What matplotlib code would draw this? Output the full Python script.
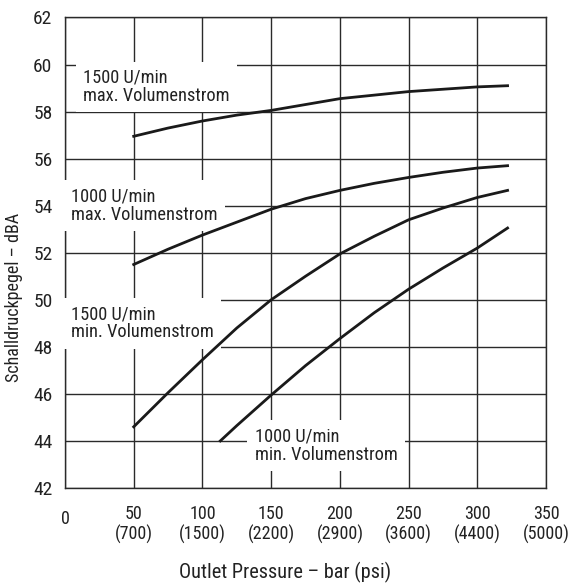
import matplotlib
matplotlib.use("Agg")
import matplotlib.pyplot as plt
import matplotlib.transforms as mtransforms

# condensed grotesque like the original; fall back if one is missing
plt.rcParams['font.family'] = ['Roboto Condensed', 'Archivo Narrow', 'Barlow Semi Condensed', 'DejaVu Sans']

# ---------------- data ----------------
x_bar = [50, 75, 100, 125, 150, 175, 200, 225, 250, 275, 300, 322]
x_bar_1000min = [113, 125, 150, 175, 200, 225, 250, 275, 300, 322]

n1500_max = [56.95, 57.3, 57.6, 57.85, 58.05, 58.3, 58.55, 58.7, 58.85, 58.95, 59.05, 59.1]
n1000_max = [51.5, 52.15, 52.75, 53.3, 53.85, 54.3, 54.65, 54.95, 55.2, 55.42, 55.6, 55.7]
n1500_min = [44.6, 46.05, 47.45, 48.8, 50.0, 51.0, 51.95, 52.7, 53.4, 53.9, 54.35, 54.65]
n1000_min = [44.0, 44.65, 45.95, 47.2, 48.35, 49.45, 50.45, 51.35, 52.2, 53.05]

xticks = [0, 50, 100, 150, 200, 250, 300, 350]
xtick_labels = ['0', '50\n(700)', '100\n(1500)', '150\n(2200)', '200\n(2900)',
                '250\n(3600)', '300\n(4400)', '350\n(5000)']
yticks = list(range(42, 63, 2))

labels = ['1500 U/min\nmax. Volumenstrom', '1000 U/min\nmax. Volumenstrom',
          '1500 U/min\nmin. Volumenstrom', '1000 U/min\nmin. Volumenstrom']
label_pos = [(13, 59.05), (4.5, 54.0), (4.5, 49.0), (138, 43.8)]

# ---------------- plot ----------------
fig = plt.figure(figsize=(5.70, 5.83), dpi=100)
ax = fig.add_axes([0.114, 0.163, 0.844, 0.807])

ax.plot(x_bar, n1500_max, color='#1a1a1a', lw=2.0, zorder=4)
ax.plot(x_bar, n1000_max, color='#1a1a1a', lw=2.0, zorder=4)
ax.plot(x_bar, n1500_min, color='#1a1a1a', lw=2.0, zorder=4)
ax.plot(x_bar_1000min, n1000_min, color='#1a1a1a', lw=2.0, zorder=4)

for txt, (lx, ly) in zip(labels, label_pos):
    ax.text(lx, ly, txt, ha='left', va='center', fontsize=13.2, color='#222222',
            linespacing=1.0, zorder=3, clip_on=False,
            bbox=dict(boxstyle='square,pad=0.4', facecolor='white', edgecolor='none'))

ax.set_xlim(0, 350)
ax.set_ylim(42, 62)
ax.set_xticks(xticks)
ax.set_xticklabels(xtick_labels, fontsize=13, color='#222222', linespacing=1.15)
ax.set_yticks(yticks)
ax.set_yticklabels([str(v) for v in yticks], fontsize=14, color='#222222')
ax.tick_params(axis='both', length=0)
ax.tick_params(axis='x', pad=12)
ax.tick_params(axis='y', pad=9)

# the lone "0" sits a bit lower than the first line of the other labels
lab0 = ax.get_xticklabels()[0]
lab0.set_transform(lab0.get_transform() + mtransforms.ScaledTranslation(0, -4 / 72, fig.dpi_scale_trans))

ax.grid(True, color='#2a2a2a', lw=1.0, zorder=1)
ax.set_axisbelow(True)
for s in ax.spines.values():
    s.set_color('#2a2a2a')
    s.set_linewidth(1.0)

ax.set_xlabel('Outlet Pressure – bar (psi)', fontsize=14.6, color='#222222')
ax.xaxis.set_label_coords(0.457, -0.157)
ax.set_ylabel('Schalldruckpegel – dBA', fontsize=13, color='#222222')
ax.yaxis.set_label_coords(-0.087, 0.405)

fig.savefig('out.png', dpi=100, facecolor='white')
